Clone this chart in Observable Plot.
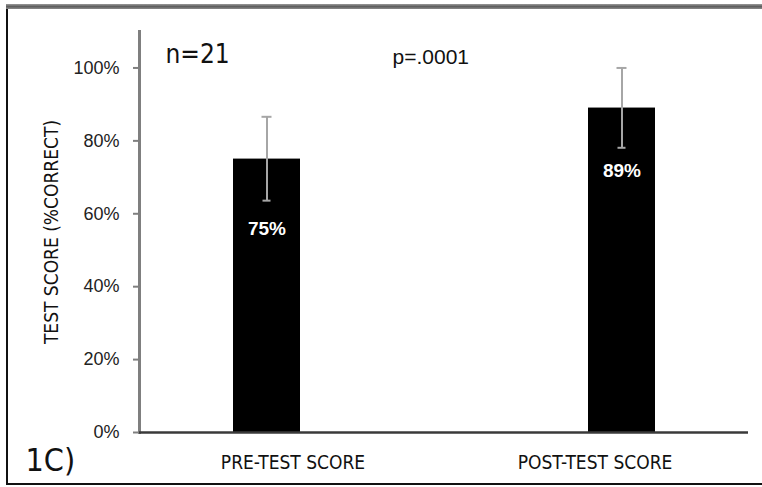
<!DOCTYPE html>
<html>
<head>
<meta charset="utf-8">
<script src="https://cdn.jsdelivr.net/npm/d3@7"></script>
<script src="https://cdn.jsdelivr.net/npm/@observablehq/plot@0.6"></script>
<style>
  html, body { margin: 0; padding: 0; background: #fff; }
  #wrap { position: relative; width: 762px; height: 487px; overflow: hidden; }
  #wrap svg { position: absolute; left: 0; top: 0; }
  #frame {
    position: absolute; left: 6px; top: 4px; width: 780px; height: 479px;
    border-left: 2px solid #111; border-bottom: 2px solid #111;
    pointer-events: none;
  }
  #frame::before {
    content: ""; position: absolute; left: -2px; right: 0; top: 0; height: 5px;
    background: linear-gradient(#9a9a9a, #5f5f5f 50%, #8a8a8a);
  }
</style>
</head>
<body>
<div id="wrap"><div id="frame"></div></div>
<script>
// ---- data ----
const categories = ["PRE-TEST SCORE", "POST-TEST SCORE"];
const scores = [0.75, 0.89];
const errLow = [0.636, 0.781];
const errHigh = [0.866, 1.0];
const barLabels = ["75%", "89%"];
const yTicks = [0, 0.2, 0.4, 0.6, 0.8, 1.0];
const yLabel = "TEST SCORE (%CORRECT)";
const nLabel = "n=21";
const pLabel = "p=.0001";
const panelLabel = "1C)";

const rows = categories.map((c, i) => ({cat: c, v: scores[i], lo: errLow[i], hi: errHigh[i], lab: barLabels[i]}));

const narrow = "'Liberation Sans Narrow', 'DejaVu Sans Condensed', 'Liberation Sans', sans-serif";
const regular = "'Liberation Sans', Arial, sans-serif";

const chart = Plot.plot({
  width: 762,
  height: 487,
  marginTop: 31,
  marginBottom: 55,
  marginLeft: 139,
  marginRight: 14,
  style: {background: "transparent", overflow: "visible"},
  x: {domain: categories, paddingInner: 0.812, paddingOuter: 0.2614, axis: null},
  y: {domain: [0, 1.1], axis: null},
  marks: [
    Plot.barY(rows, {x: "cat", y: "v", fill: "#000"}),
    Plot.ruleX(rows, {x: "cat", y1: "lo", y2: "hi", stroke: "#a6a6a6", strokeWidth: 2}),
    Plot.tickY(rows, {x: "cat", y: "hi", stroke: "#a6a6a6", strokeWidth: 2, insetLeft: 28.5, insetRight: 28.5}),
    Plot.tickY(rows, {x: "cat", y: "lo", stroke: "#a6a6a6", strokeWidth: 2, insetLeft: 29.5, insetRight: 29.5}),
    Plot.text([rows[0]], {x: "cat", y: "v", text: "lab", dy: 70, fill: "#fff", fontWeight: "bold", fontSize: 19, fontFamily: regular}),
    Plot.text([rows[1]], {x: "cat", y: "v", text: "lab", dy: 63, fill: "#fff", fontWeight: "bold", fontSize: 19, fontFamily: regular}),
    Plot.frame({anchor: "left", stroke: "#7f7f7f", strokeWidth: 3}),
    Plot.ruleY([0], {stroke: "#3a3a3a", strokeWidth: 2.5}),
    Plot.axisY({ticks: yTicks, tickFormat: d3.format(".0%"), tickSize: 6, tickPadding: 14, label: null,
      stroke: "#7f7f7f", strokeWidth: 2, fill: "#222", fontSize: 18, fontFamily: regular}),
    Plot.axisX({ticks: [categories[0]], tickSize: 0, tickPadding: 23, dx: 26, label: null,
      fill: "#111", fontSize: 19, fontFamily: narrow}),
    Plot.axisX({ticks: [categories[1]], tickSize: 0, tickPadding: 23, dx: -27, label: null,
      fill: "#111", fontSize: 19, fontFamily: narrow}),
    Plot.text([yLabel], {frameAnchor: "left", text: d => d, rotate: -90, textAnchor: "middle", lineAnchor: "middle", dx: -88, fontSize: 19, fontFamily: narrow, fill: "#111"}),
    Plot.text([nLabel], {frameAnchor: "top-left", text: d => d, textAnchor: "start", lineAnchor: "bottom", dx: 26, dy: 31, fontSize: 26, fontFamily: narrow, fill: "#111"}),
    Plot.text([pLabel], {frameAnchor: "top-left", text: d => d, textAnchor: "start", lineAnchor: "bottom", dx: 253, dy: 32, fontSize: 21, fontFamily: regular, fill: "#111"}),
    Plot.text([panelLabel], {frameAnchor: "bottom-left", text: d => d, textAnchor: "start", lineAnchor: "bottom", dx: -114, dy: 38, fontSize: 32, fontFamily: narrow, fill: "#111"})
  ]
});
document.getElementById("wrap").insertBefore(chart, document.getElementById("frame"));
</script>
</body>
</html>
